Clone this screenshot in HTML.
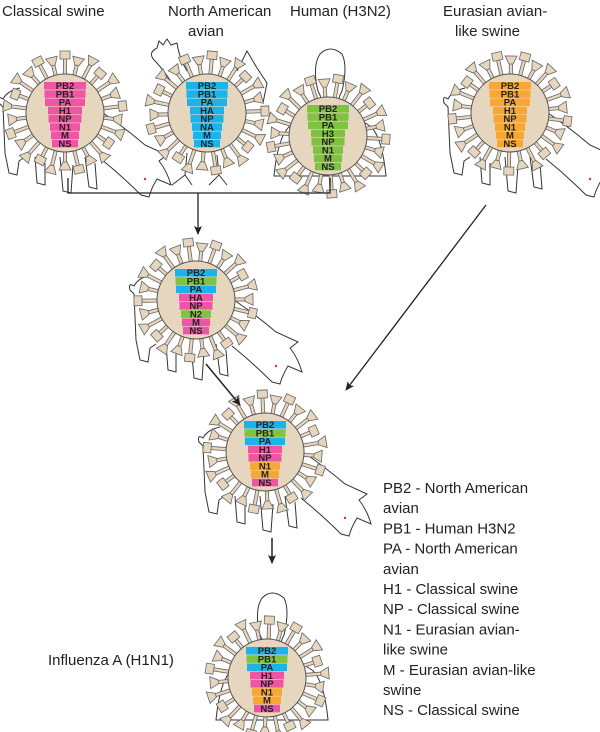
<!DOCTYPE html>
<html><head><meta charset="utf-8"><style>
html,body{margin:0;padding:0;background:#fff}
svg{display:block}
text{font-family:"Liberation Sans",Arial,sans-serif}
.t{font-size:15px;fill:#222}
.g{font-size:9.5px;font-weight:bold;fill:#222;text-anchor:middle}
.o{fill:none;stroke:#333;stroke-width:1}
</style></head><body>
<svg id="s" width="600" height="732" viewBox="0 0 600 732" xmlns="http://www.w3.org/2000/svg">
<defs>
<marker id="ar" markerWidth="10" markerHeight="10" refX="8" refY="5" orient="auto" markerUnits="userSpaceOnUse"><path d="M0,1 L9,5 L0,9 L2,5 Z" fill="#222"/></marker>
<g id="pig">
<path class="o" fill="#fff" d="M-45,-25 Q-58,-22 -62,-14 Q-68,-18 -66,-10 L-62,-6 L-60,40 L-56,60 L-48,62 L-46,48 L-40,44 M-30,44 L-28,70 L-20,72 L-20,50 M-5,44 L-2,78 L6,80 L8,52 M20,44 L24,74 L32,76 L30,50 M38,0 Q60,15 80,32 L102,42 L94,48 Q102,58 106,72 L92,66 Q86,76 84,84 L76,82 Q64,70 48,56 L36,46"/>
<circle cx="80" cy="66" r="1.2" fill="#d33"/>
</g>
<g id="hum">
<path class="o" fill="#fff" d="M-12,-45 Q-18,-70 -10,-82 Q0,-92 12,-82 Q18,-70 12,-45 Q8,-38 8,-30 L40,-10 Q52,0 56,40 L-56,40 Q-52,0 -40,-10 L-8,-30 Q-8,-38 -12,-45 Z"/>
</g>
</defs>

<text class="t" x="2" y="16">Classical swine</text>
<text class="t" x="168" y="16">North American</text>
<text class="t" x="188" y="36">avian</text>
<text class="t" x="290" y="16">Human (H3N2)</text>
<text class="t" x="443" y="16">Eurasian avian-</text>
<text class="t" x="455" y="36">like swine</text>

<use href="#pig" x="65" y="113"/>
<g transform="translate(207,113)">
<path class="o" fill="#fff" d="M-35,-30 Q-45,-45 -52,-52 Q-60,-60 -50,-65 L-48,-72 L-44,-68 L-40,-74 L-36,-68 L-30,-70 Q-28,-55 -20,-42 M30,-42 L40,-62 L50,-45 L60,-30 L56,-10 M-20,40 L-22,62 L-35,72 M-22,62 L-15,72 M10,42 L12,62 L2,72 M12,62 L20,72"/>
</g>
<g transform="translate(330,136)"><use href="#hum"/></g>
<use href="#pig" x="510" y="113"/>
<use href="#pig" x="196" y="300"/>
<use href="#pig" x="265" y="452"/>
<g transform="translate(268,678)"><use href="#hum" transform="translate(4,2)"/></g>

<g id="viruses"></g>

<path d="M68,178 L68,193 L330,193 L330,178" fill="none" stroke="#222" stroke-width="1.3"/>
<line x1="198" y1="193" x2="198" y2="234" stroke="#222" stroke-width="1.3" marker-end="url(#ar)"/>
<line x1="486" y1="205" x2="346" y2="390" stroke="#222" stroke-width="1.3" marker-end="url(#ar)"/>
<line x1="206" y1="364" x2="240" y2="405" stroke="#222" stroke-width="1.5" marker-end="url(#ar)"/>
<line x1="272" y1="538" x2="272" y2="563" stroke="#222" stroke-width="1.5" marker-end="url(#ar)"/>

<text class="t" x="383" y="493">PB2 - North American</text>
<text class="t" x="383" y="513.2">avian</text>
<text class="t" x="383" y="533.4">PB1 - Human H3N2</text>
<text class="t" x="383" y="553.6">PA - North American</text>
<text class="t" x="383" y="573.8">avian</text>
<text class="t" x="383" y="594">H1 - Classical swine</text>
<text class="t" x="383" y="614.2">NP - Classical swine</text>
<text class="t" x="383" y="634.4">N1 - Eurasian avian-</text>
<text class="t" x="383" y="654.6">like swine</text>
<text class="t" x="383" y="674.8">M - Eurasian avian-like</text>
<text class="t" x="383" y="695">swine</text>
<text class="t" x="383" y="715.2">NS - Classical swine</text>
<text class="t" x="48" y="665">Influenza A (H1N1)</text>

<g id="labels">
<g transform="translate(65,113)"><text class="g" y="-24">PB2</text><text class="g" y="-15.75">PB1</text><text class="g" y="-7.5">PA</text><text class="g" y="0.75">H1</text><text class="g" y="9">NP</text><text class="g" y="17.25">N1</text><text class="g" y="25.5">M</text><text class="g" y="33.75">NS</text></g>
<g transform="translate(207,113)"><text class="g" y="-24">PB2</text><text class="g" y="-15.75">PB1</text><text class="g" y="-7.5">PA</text><text class="g" y="0.75">HA</text><text class="g" y="9">NP</text><text class="g" y="17.25">NA</text><text class="g" y="25.5">M</text><text class="g" y="33.75">NS</text></g>
<g transform="translate(328,136)"><text class="g" y="-24">PB2</text><text class="g" y="-15.75">PB1</text><text class="g" y="-7.5">PA</text><text class="g" y="0.75">H3</text><text class="g" y="9">NP</text><text class="g" y="17.25">N1</text><text class="g" y="25.5">M</text><text class="g" y="33.75">NS</text></g>
<g transform="translate(510,113)"><text class="g" y="-24">PB2</text><text class="g" y="-15.75">PB1</text><text class="g" y="-7.5">PA</text><text class="g" y="0.75">H1</text><text class="g" y="9">NP</text><text class="g" y="17.25">N1</text><text class="g" y="25.5">M</text><text class="g" y="33.75">NS</text></g>
<g transform="translate(196,300)"><text class="g" y="-24">PB2</text><text class="g" y="-15.75">PB1</text><text class="g" y="-7.5">PA</text><text class="g" y="0.75">HA</text><text class="g" y="9">NP</text><text class="g" y="17.25">N2</text><text class="g" y="25.5">M</text><text class="g" y="33.75">NS</text></g>
<g transform="translate(265,452)"><text class="g" y="-24">PB2</text><text class="g" y="-15.75">PB1</text><text class="g" y="-7.5">PA</text><text class="g" y="0.75">H1</text><text class="g" y="9">NP</text><text class="g" y="17.25">N1</text><text class="g" y="25.5">M</text><text class="g" y="33.75">NS</text></g>
<g transform="translate(267,678)"><text class="g" y="-24">PB2</text><text class="g" y="-15.75">PB1</text><text class="g" y="-7.5">PA</text><text class="g" y="0.75">H1</text><text class="g" y="9">NP</text><text class="g" y="17.25">N1</text><text class="g" y="25.5">M</text><text class="g" y="33.75">NS</text></g>
</g>
</svg>
<script>
(function(){
var NS="http://www.w3.org/2000/svg";
var P="#ee55a4",C="#1ab4ea",G="#80c242",O="#f9a733";
var V=[
[65,113,[P,P,P,P,P,P,P,P]],
[207,113,[C,C,C,C,C,C,C,C]],
[328,136,[G,G,G,G,G,G,G,G]],
[510,113,[O,O,O,O,O,O,O,O]],
[196,300,[C,G,C,P,P,G,P,P]],
[265,452,[C,G,C,P,P,O,O,P]],
[267,678,[C,G,C,P,P,O,O,P]]
];
var W=[42,41,40,34,33,30,28,26];
var host=document.getElementById("viruses");
function el(n,a){var e=document.createElementNS(NS,n);for(var k in a)e.setAttribute(k,a[k]);return e;}
V.forEach(function(v,vi){
var g=el("g",{transform:"translate("+v[0]+","+v[1]+")"});
var r=39,n=26;
for(var i=0;i<n;i++){
var a=i*360/n+vi*5;
var L=(i%2)?10:15;
var h=(i%3==0)?"M-5,"+(-r-L)+" L5,"+(-r-L)+" L5,"+(-r-L-8)+" L-5,"+(-r-L-8)+" Z":"M-2,"+(-r-L)+" L2,"+(-r-L)+" L6,"+(-r-L-8)+" L-6,"+(-r-L-8)+" Z";
var s=el("path",{d:"M-1.6,"+(-r+2)+" L1.6,"+(-r+2)+" L1.6,"+(-r-L)+" L-1.6,"+(-r-L)+" Z "+h,fill:"#e6d6bd",stroke:"#666","stroke-width":"0.8",transform:"rotate("+a+")"});
g.appendChild(s);
}
g.appendChild(el("circle",{r:r,fill:"#e6d6bd",stroke:"#555","stroke-width":"1"}));
for(var j=0;j<8;j++){
g.appendChild(el("rect",{x:-W[j]/2,y:-31+j*8.25,width:W[j],height:7.6,fill:v[2][j]}));
}
host.appendChild(g);
});
})();
</script>
</body></html>
